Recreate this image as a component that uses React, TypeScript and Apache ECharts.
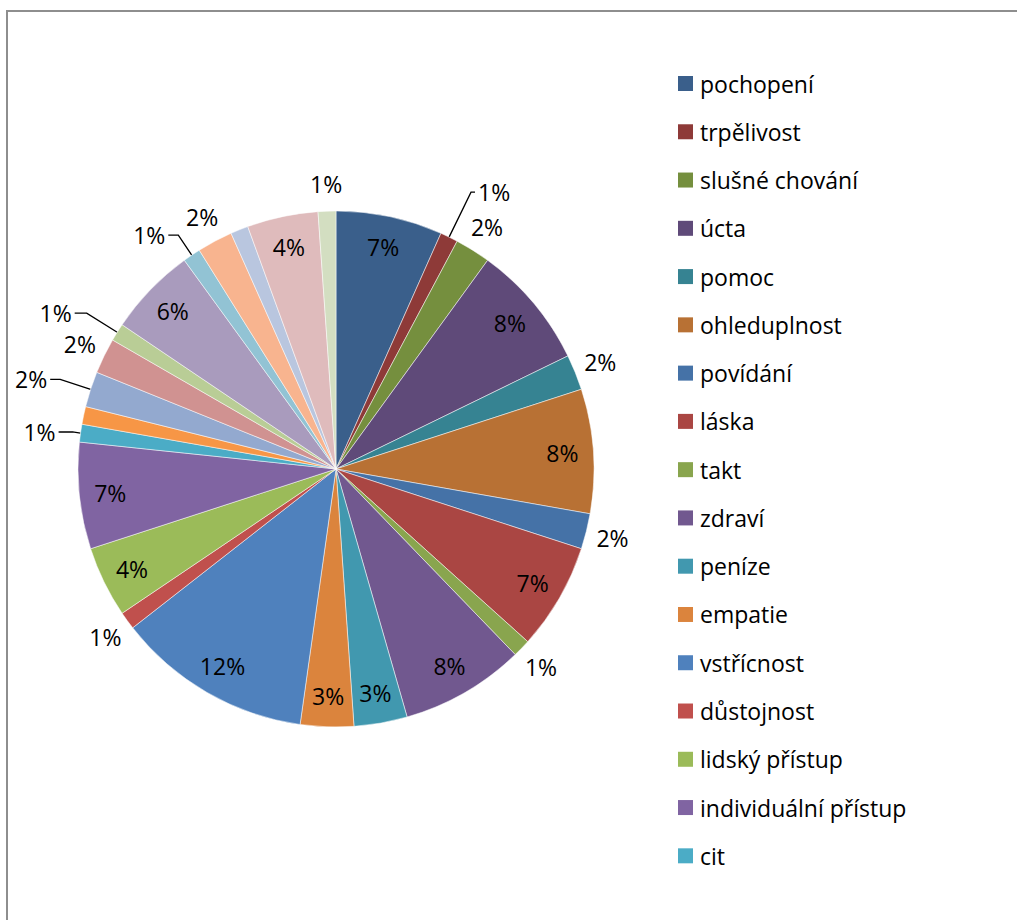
import { useEffect, useRef } from "react";
import * as echarts from "echarts";

// Category names (the first 17 are the ones visible in the legend)
const categories = [
  "pochopení",
  "trpělivost",
  "slušné chování",
  "úcta",
  "pomoc",
  "ohleduplnost",
  "povídání",
  "láska",
  "takt",
  "zdraví",
  "peníze",
  "empatie",
  "vstřícnost",
  "důstojnost",
  "lidský přístup",
  "individuální přístup",
  "cit",
  "položka 18",
  "položka 19",
  "položka 20",
  "položka 21",
  "položka 22",
  "položka 23",
  "položka 24",
  "položka 25",
  "položka 26",
  "položka 27",
];

// Counts (each unit = 4°, total 90)
const counts = [6, 1, 2, 7, 2, 7, 2, 6, 1, 7, 3, 3, 11, 1, 4, 6, 1, 1, 2, 2, 1, 5, 1, 2, 1, 4, 1];

const legendCount = 17;

const colors = [
  "#3A5F8B", "#8E3A38", "#758F3E", "#5F4A79", "#368392", "#B87134",
  "#4572A7", "#AA4643", "#89A54E", "#71588F", "#4198AF", "#DB843D",
  "#4F81BD", "#C0504D", "#9BBB59", "#8064A2", "#4BACC6", "#F79646",
  "#93A9CF", "#D09291", "#B9CD96", "#A99BBD", "#92C3D4", "#F8B48F",
  "#B9C6DF", "#DFBBBC", "#D3DEC1",
];

// label placement groups (by slice index)
const insideLabelIdx = [0, 3, 5, 7, 9, 10, 11, 12, 14, 15, 21, 25];
const outsideLabelIdx = [2, 4, 6, 8, 13, 17, 19, 23, 24, 26];
const leaderLabelIdx = [1, 16, 18, 20, 22];

// leader line style per leader label (length, length2)
const leaderStyle: Record<number, [number, number]> = {
  1: [50, 4],
  16: [8, 14],
  18: [32, 10],
  20: [36, 12],
  22: [24, 10],
};

const FONT = "'Open Sans', sans-serif";
const CX = 336;
const CY = 469;
const R = 258;

const pctFormatter = (p: any) => Math.round(p.percent) + "%";

export default function App() {
  const ref = useRef<HTMLDivElement>(null);

  useEffect(() => {
    document.body.style.margin = "0";
    const chart = echarts.init(ref.current!, null, { renderer: "svg" });

    const baseLabel = {
      color: "#000",
      fontFamily: FONT,
      fontSize: 23,
      formatter: pctFormatter,
    };

    const mainData = categories.map((name, i) => {
      const isLeader = leaderLabelIdx.includes(i);
      const ls = leaderStyle[i];
      return {
        name,
        value: counts[i],
        itemStyle: { color: colors[i] },
        label: isLeader
          ? { show: true, position: "outside", distanceToLabelLine: 3 }
          : { show: false },
        labelLine: isLeader
          ? {
              show: true,
              length: ls[0],
              length2: ls[1],
              smooth: false,
              lineStyle: { color: "#000", width: 1.3 },
            }
          : { show: false },
      };
    });

    const overlayData = (idxs: number[]) =>
      categories.map((name, i) => ({
        name,
        value: counts[i],
        label: { show: idxs.includes(i) },
      }));

    const overlayCommon = {
      type: "pie",
      center: [CX, CY],
      startAngle: 90,
      clockwise: true,
      avoidLabelOverlap: false,
      silent: true,
      legendHoverLink: false,
      itemStyle: { color: "rgba(0,0,0,0)", borderWidth: 0 },
      labelLine: { show: false },
      emphasis: { disabled: true },
    };

    chart.setOption({
      animation: false,
      backgroundColor: "#fff",
      legend: {
        data: categories.slice(0, legendCount),
        orient: "vertical",
        left: 678,
        top: 71.5,
        padding: 0,
        itemWidth: 15,
        itemHeight: 15,
        itemGap: 24.27,
        icon: "rect",
        selectedMode: false,
        itemStyle: { borderWidth: 0 },
        textStyle: {
          fontFamily: FONT,
          fontSize: 23,
          color: "#000",
          lineHeight: 24,
          padding: [0, 0, 0, 2],
        },
      },
      graphic: [
        {
          type: "rect",
          silent: true,
          z: -1,
          shape: { x: 7, y: 11, width: 1300, height: 1300 },
          style: { fill: "none", stroke: "#8E8E8E", lineWidth: 2 },
        },
      ],
      series: [
        {
          type: "pie",
          center: [CX, CY],
          radius: [0, R],
          startAngle: 90,
          clockwise: true,
          avoidLabelOverlap: false,
          itemStyle: { borderColor: "#ffffff", borderWidth: 0.5 },
          label: baseLabel,
          emphasis: { disabled: true },
          data: mainData,
        },
        {
          ...overlayCommon,
          radius: [200, 248],
          label: { ...baseLabel, position: "inside" },
          data: overlayData(insideLabelIdx),
        },
        {
          ...overlayCommon,
          radius: [268, 296],
          label: { ...baseLabel, position: "inside" },
          data: overlayData(outsideLabelIdx),
        },
      ],
    });

    return () => {
      chart.dispose();
    };
  }, []);

  return <div ref={ref} style={{ width: 1017, height: 920 }} />;
}
